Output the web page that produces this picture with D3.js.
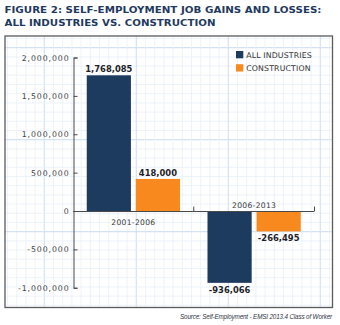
<!DOCTYPE html>
<html>
<head>
<meta charset="utf-8">
<script src="https://cdn.jsdelivr.net/npm/d3@7"></script>
<style>
  html, body { margin: 0; padding: 0; background: #fff; }
  svg { display: block; }
</style>
</head>
<body>
<svg id="chart" width="340" height="325"></svg>
<script>
/// chart data
var periods = ["2001-2006", "2006-2013"];
var series = ["ALL INDUSTRIES", "CONSTRUCTION"];
var allIndustries = [1768085, -936066];
var construction = [418000, -266495];
var yTicks = [-1000000, -500000, 0, 500000, 1000000, 1500000, 2000000];
var titleLines = ["FIGURE 2: SELF-EMPLOYMENT JOB GAINS AND LOSSES:", "ALL INDUSTRIES VS. CONSTRUCTION"];
var source = "Source: Self-Employment - EMSI 2013.4 Class of Worker";

var colors = {"ALL INDUSTRIES": "#1d3a5f", "CONSTRUCTION": "#f7891f"};
var font = "'DejaVu Sans', sans-serif";

var rows = periods.map((p, i) => ({period: p, values: [allIndustries[i], construction[i]]}));

var svg = d3.select("#chart");

var loc = d3.formatLocale({decimal: ".", thousands: ",", grouping: [3], currency: ["$", ""], minus: "-"});
var fmt = loc.format(",");

/// frame and grid paper
var frame = {x0: 5, y0: 36, x1: 332.5, y1: 307.5};
var cell = 9.2;
var grid = svg.append("g");
d3.range(-4, 40).forEach(function(k) {
    var x = 44.3 + k * cell;
    if (x > frame.x0 && x < frame.x1)
        grid.append("line").attr("x1", x).attr("x2", x).attr("y1", frame.y0).attr("y2", frame.y1)
            .attr("stroke", k % 10 == 0 ? "#d3e3f3" : "#e8f0f9").attr("stroke-width", k % 10 == 0 ? 1.2 : 0.8);
    var y = 47.7 + k * cell;
    if (y > frame.y0 && y < frame.y1)
        grid.append("line").attr("y1", y).attr("y2", y).attr("x1", frame.x0).attr("x2", frame.x1)
            .attr("stroke", k % 10 == 0 ? "#d3e3f3" : "#e8f0f9").attr("stroke-width", k % 10 == 0 ? 1.2 : 0.8);
});
svg.append("rect")
    .attr("x", frame.x0).attr("y", frame.y0)
    .attr("width", frame.x1 - frame.x0).attr("height", frame.y1 - frame.y0)
    .attr("fill", "none").attr("stroke", "#5a5a5a").attr("stroke-width", 1.3);

/// title
svg.append("g").selectAll("text")
    .data(titleLines)
    .join("text")
    .attr("x", 4.5)
    .attr("y", (d, i) => 13.4 + i * 12.4)
    .attr("font-family", font)
    .attr("font-weight", "bold")
    .attr("font-size", 8.8)
    .attr("fill", "#1f3a5f")
    .attr("textLength", (d, i) => i == 0 ? 317 : 211)
    .attr("lengthAdjust", "spacingAndGlyphs")
    .text(d => d);

/// scales
var y = d3.scaleLinear().domain([-1000000, 2000000]).range([287.75, 57.5]);
var x0 = d3.scaleBand().domain(periods).range([73, 314.5]).padding(0);
var x1 = d3.scaleBand().domain(series).range([0, x0.bandwidth()])
    .paddingInner(0.1).paddingOuter(0.28);

/// y axis, ticks pointing inward
var yAxis = svg.append("g")
    .attr("transform", "translate(73.5,0)")
    .call(d3.axisLeft(y).tickValues(yTicks).tickFormat(fmt)
          .tickSizeInner(-4).tickSizeOuter(-4).tickPadding(4));
yAxis.select(".domain").attr("stroke", "#4a4a4a");
yAxis.selectAll(".tick line").attr("stroke", "#4a4a4a");
yAxis.selectAll(".tick text")
    .attr("font-family", font)
    .attr("font-size", 7.8)
    .attr("letter-spacing", 0.9)
    .attr("fill", "#444");

/// bars
var groups = svg.append("g").selectAll("g")
    .data(rows)
    .join("g")
    .attr("transform", d => "translate(" + x0(d.period) + ",0)");

groups.selectAll("rect")
    .data(d => d.values.map((v, i) => ({key: series[i], value: v})))
    .join("rect")
    .attr("x", d => x1(d.key))
    .attr("width", x1.bandwidth())
    .attr("y", d => y(Math.max(0, d.value)))
    .attr("height", d => Math.abs(y(d.value) - y(0)))
    .attr("fill", d => colors[d.key]);

groups.selectAll("text.val")
    .data(d => d.values.map((v, i) => ({key: series[i], value: v})))
    .join("text")
    .attr("class", "val")
    .attr("x", d => x1(d.key) + x1.bandwidth() / 2)
    .attr("y", d => d.value >= 0 ? y(d.value) - 2.8 : y(d.value) + 10)
    .attr("text-anchor", "middle")
    .attr("font-family", font)
    .attr("font-weight", "bold")
    .attr("font-size", 8.4)
    .attr("fill", "#1e1e28")
    .text(d => fmt(d.value));

/// zero baseline with boundary ticks
var base = svg.append("g").attr("stroke", "#4a4a4a").attr("stroke-width", 1);
base.append("line")
    .attr("x1", x0.range()[0]).attr("x2", x0.range()[1])
    .attr("y1", y(0) + 0.5).attr("y2", y(0) + 0.5);
base.selectAll("line.tk")
    .data(periods)
    .join("line")
    .attr("class", "tk")
    .attr("x1", d => x0(d) + x0.bandwidth()).attr("x2", d => x0(d) + x0.bandwidth())
    .attr("y1", y(0)).attr("y2", y(0) - 4.5);

/// category labels on the side opposite the bars
svg.append("g").selectAll("text")
    .data(rows)
    .join("text")
    .attr("x", d => x0(d.period) + x0.bandwidth() / 2)
    .attr("y", d => d3.sum(d.values) >= 0 ? y(0) + 13.5 : y(0) - 2.8)
    .attr("text-anchor", "middle")
    .attr("font-family", font)
    .attr("font-size", 7.6)
    .attr("letter-spacing", 0.3)
    .attr("fill", "#3a3a3a")
    .text(d => d.period);

/// legend
var legend = svg.append("g").selectAll("g")
    .data(series)
    .join("g")
    .attr("transform", (d, i) => "translate(236," + (51 + i * 13.2) + ")");
legend.append("rect")
    .attr("width", 7.3).attr("height", 7.3)
    .attr("fill", d => colors[d]);
legend.append("text")
    .attr("x", 10.2).attr("y", 6.8)
    .attr("font-family", font)
    .attr("font-size", 7.8)
    .attr("letter-spacing", 0.15)
    .attr("fill", "#333")
    .text(d => d);

/// source note
svg.append("text")
    .attr("x", 332).attr("y", 318.5)
    .attr("text-anchor", "end")
    .attr("font-family", "'Liberation Sans', sans-serif")
    .attr("font-style", "italic")
    .attr("font-size", 6.3)
    .attr("letter-spacing", -0.15)
    .attr("fill", "#2f3542")
    .text(source);
</script>
</body>
</html>
